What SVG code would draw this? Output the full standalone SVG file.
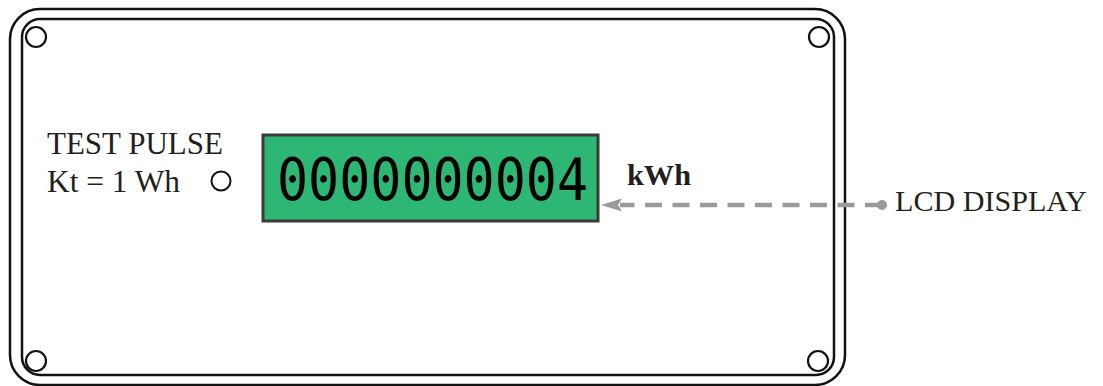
<svg xmlns="http://www.w3.org/2000/svg" width="1103" height="386" viewBox="0 0 1103 386">
  <style>
    .frame { fill: none; stroke: #111; stroke-width: 2.5; }
    .screw { fill: #fff; stroke: #111; stroke-width: 2.2; }
    .label { font-family: "Liberation Serif", "Times New Roman", serif; fill: #231f20; }
    .lcd { fill: #2db674; stroke: #3a3a3a; stroke-width: 3; }
    .digits { font-family: "DejaVu Sans Mono", "Liberation Mono", monospace; fill: #000; }
    .conn { stroke: #9a9a9a; stroke-width: 4.5; fill: none; stroke-dasharray: 17 10.5; }
  </style>
  <defs>
    <marker id="arrow" markerWidth="24" markerHeight="16" refX="2" refY="8" orient="auto" markerUnits="userSpaceOnUse">
      <path d="M21,8 L0,1.5 L4,8 L0,14.5 Z" fill="#9a9a9a"/>
    </marker>
  </defs>
  <g id="meter">
    <rect class="frame" x="10" y="9" width="835" height="376" rx="30" ry="30"/>
    <rect class="frame" x="22" y="19" width="812" height="356" rx="18" ry="18"/>
  </g>
  <g id="screws">
    <circle class="screw" cx="36" cy="37" r="10"/>
    <circle class="screw" cx="819" cy="37" r="10"/>
    <circle class="screw" cx="36" cy="361" r="10"/>
    <circle class="screw" cx="818" cy="361" r="10"/>
  </g>
  <g id="test-pulse">
    <text class="label" x="47" y="154" font-size="30.5" textLength="176" lengthAdjust="spacingAndGlyphs">TEST PULSE</text>
    <text class="label" x="47" y="192" font-size="30.5" textLength="133" lengthAdjust="spacingAndGlyphs">Kt = 1 Wh</text>
    <circle cx="221" cy="181" r="9.5" fill="#fff" stroke="#111" stroke-width="2"/>
  </g>
  <g id="lcd-display">
    <rect class="lcd" x="263" y="135" width="335" height="86"/>
    <text class="digits" x="277" y="200" font-size="59" textLength="311" lengthAdjust="spacingAndGlyphs">0000000004</text>
  </g>
  <g id="unit">
    <text class="label" x="627" y="185" font-size="29.5" font-weight="bold" textLength="64" lengthAdjust="spacingAndGlyphs">kWh</text>
  </g>
  <g id="lcd-label">
    <text class="label" x="895" y="211" font-size="30" textLength="192" lengthAdjust="spacingAndGlyphs">LCD DISPLAY</text>
  </g>
  <g id="connectors">
    <line class="conn" x1="882" y1="205" x2="620" y2="205" marker-end="url(#arrow)"/>
    <circle cx="882" cy="205" r="5" fill="#9a9a9a"/>
  </g>
</svg>
